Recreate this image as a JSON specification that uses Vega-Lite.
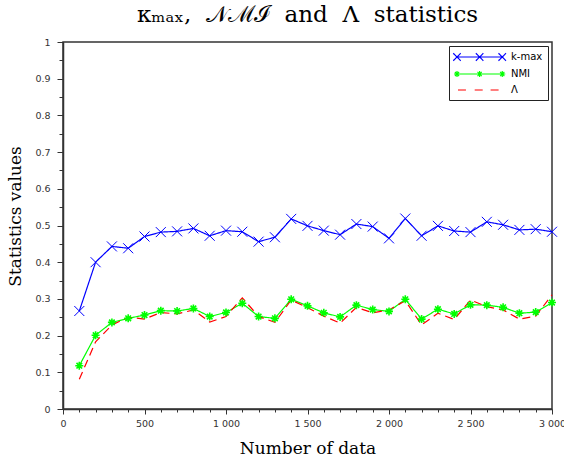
{
  "$schema": "https://vega.github.io/schema/vega-lite/v6.json",
  "width": 489,
  "height": 367,
  "autosize": "none",
  "padding": {"left": 63, "top": 42, "right": 12, "bottom": 55},
  "background": "white",
  "title": {
    "text": "κₘₐₓ,\u00a0\u00a0𝒩ℳℐ\u00a0\u00a0and\u00a0\u00a0Λ\u00a0\u00a0statistics",
    "font": "DejaVu Serif",
    "fontSize": 23,
    "fontWeight": "normal",
    "color": "black",
    "anchor": "middle",
    "frame": "group",
    "offset": 10
  },
  "config": {
    "view": {"stroke": "#333", "strokeWidth": 1.5},
    "axis": {
      "grid": false,
      "domainColor": "#333",
      "domainWidth": 1.5,
      "tickColor": "#333",
      "tickWidth": 1,
      "labelFont": "DejaVu Sans",
      "labelFontSize": 9.5,
      "labelColor": "#333",
      "labelOverlap": false,
      "labelFlush": false,
      "titleFont": "DejaVu Serif",
      "titleFontSize": 17,
      "titleFontWeight": "normal",
      "titleColor": "black"
    }
  },
  "data": {
    "values": [
      {"n": 100, "series": "k-max", "value": 0.267},
      {"n": 200, "series": "k-max", "value": 0.400},
      {"n": 300, "series": "k-max", "value": 0.443},
      {"n": 400, "series": "k-max", "value": 0.438},
      {"n": 500, "series": "k-max", "value": 0.470},
      {"n": 600, "series": "k-max", "value": 0.482},
      {"n": 700, "series": "k-max", "value": 0.484},
      {"n": 800, "series": "k-max", "value": 0.492},
      {"n": 900, "series": "k-max", "value": 0.472},
      {"n": 1000, "series": "k-max", "value": 0.486},
      {"n": 1100, "series": "k-max", "value": 0.483},
      {"n": 1200, "series": "k-max", "value": 0.456},
      {"n": 1300, "series": "k-max", "value": 0.468},
      {"n": 1400, "series": "k-max", "value": 0.518},
      {"n": 1500, "series": "k-max", "value": 0.499},
      {"n": 1600, "series": "k-max", "value": 0.486},
      {"n": 1700, "series": "k-max", "value": 0.475},
      {"n": 1800, "series": "k-max", "value": 0.504},
      {"n": 1900, "series": "k-max", "value": 0.497},
      {"n": 2000, "series": "k-max", "value": 0.465},
      {"n": 2100, "series": "k-max", "value": 0.519},
      {"n": 2200, "series": "k-max", "value": 0.472},
      {"n": 2300, "series": "k-max", "value": 0.499},
      {"n": 2400, "series": "k-max", "value": 0.485},
      {"n": 2500, "series": "k-max", "value": 0.482},
      {"n": 2600, "series": "k-max", "value": 0.510},
      {"n": 2700, "series": "k-max", "value": 0.502},
      {"n": 2800, "series": "k-max", "value": 0.488},
      {"n": 2900, "series": "k-max", "value": 0.490},
      {"n": 3000, "series": "k-max", "value": 0.483},
      {"n": 100, "series": "NMI", "value": 0.118},
      {"n": 200, "series": "NMI", "value": 0.201},
      {"n": 300, "series": "NMI", "value": 0.236},
      {"n": 400, "series": "NMI", "value": 0.247},
      {"n": 500, "series": "NMI", "value": 0.256},
      {"n": 600, "series": "NMI", "value": 0.268},
      {"n": 700, "series": "NMI", "value": 0.267},
      {"n": 800, "series": "NMI", "value": 0.274},
      {"n": 900, "series": "NMI", "value": 0.252},
      {"n": 1000, "series": "NMI", "value": 0.263},
      {"n": 1100, "series": "NMI", "value": 0.288},
      {"n": 1200, "series": "NMI", "value": 0.252},
      {"n": 1300, "series": "NMI", "value": 0.247},
      {"n": 1400, "series": "NMI", "value": 0.299},
      {"n": 1500, "series": "NMI", "value": 0.281},
      {"n": 1600, "series": "NMI", "value": 0.262},
      {"n": 1700, "series": "NMI", "value": 0.251},
      {"n": 1800, "series": "NMI", "value": 0.283},
      {"n": 1900, "series": "NMI", "value": 0.271},
      {"n": 2000, "series": "NMI", "value": 0.266},
      {"n": 2100, "series": "NMI", "value": 0.299},
      {"n": 2200, "series": "NMI", "value": 0.245},
      {"n": 2300, "series": "NMI", "value": 0.272},
      {"n": 2400, "series": "NMI", "value": 0.259},
      {"n": 2500, "series": "NMI", "value": 0.284},
      {"n": 2600, "series": "NMI", "value": 0.283},
      {"n": 2700, "series": "NMI", "value": 0.277},
      {"n": 2800, "series": "NMI", "value": 0.261},
      {"n": 2900, "series": "NMI", "value": 0.264},
      {"n": 3000, "series": "NMI", "value": 0.290},
      {"n": 100, "series": "Λ", "value": 0.081},
      {"n": 200, "series": "Λ", "value": 0.183},
      {"n": 300, "series": "Λ", "value": 0.229},
      {"n": 400, "series": "Λ", "value": 0.250},
      {"n": 500, "series": "Λ", "value": 0.245},
      {"n": 600, "series": "Λ", "value": 0.263},
      {"n": 700, "series": "Λ", "value": 0.259},
      {"n": 800, "series": "Λ", "value": 0.270},
      {"n": 900, "series": "Λ", "value": 0.237},
      {"n": 1000, "series": "Λ", "value": 0.252},
      {"n": 1100, "series": "Λ", "value": 0.303},
      {"n": 1200, "series": "Λ", "value": 0.252},
      {"n": 1300, "series": "Λ", "value": 0.236},
      {"n": 1400, "series": "Λ", "value": 0.297},
      {"n": 1500, "series": "Λ", "value": 0.276},
      {"n": 1600, "series": "Λ", "value": 0.253},
      {"n": 1700, "series": "Λ", "value": 0.234},
      {"n": 1800, "series": "Λ", "value": 0.277},
      {"n": 1900, "series": "Λ", "value": 0.262},
      {"n": 2000, "series": "Λ", "value": 0.270},
      {"n": 2100, "series": "Λ", "value": 0.295},
      {"n": 2200, "series": "Λ", "value": 0.229},
      {"n": 2300, "series": "Λ", "value": 0.261},
      {"n": 2400, "series": "Λ", "value": 0.244},
      {"n": 2500, "series": "Λ", "value": 0.297},
      {"n": 2600, "series": "Λ", "value": 0.279},
      {"n": 2700, "series": "Λ", "value": 0.270},
      {"n": 2800, "series": "Λ", "value": 0.245},
      {"n": 2900, "series": "Λ", "value": 0.253},
      {"n": 3000, "series": "Λ", "value": 0.311}
    ]
  },
  "encoding": {
    "x": {
      "field": "n",
      "type": "quantitative",
      "scale": {"domain": [0, 3000], "nice": false},
      "axis": {
        "title": "Number of data",
        "values": [0, 100, 200, 300, 400, 500, 600, 700, 800, 900, 1000, 1100, 1200, 1300, 1400, 1500, 1600, 1700, 1800, 1900, 2000, 2100, 2200, 2300, 2400, 2500, 2600, 2700, 2800, 2900, 3000],
        "labelExpr": "datum.value % 500 === 0 ? replace(format(datum.value, ','), ',', ' ') : ''",
        "tickSize": {"condition": {"test": "datum.value % 500 === 0", "value": 5}, "value": 3},
        "labelPadding": 4,
        "titleY": 44,
        "titleBaseline": "alphabetic"
      }
    },
    "y": {
      "field": "value",
      "type": "quantitative",
      "scale": {"domain": [0, 1], "nice": false},
      "axis": {
        "title": "Statistics values",
        "values": [0, 0.05, 0.1, 0.15, 0.2, 0.25, 0.3, 0.35, 0.4, 0.45, 0.5, 0.55, 0.6, 0.65, 0.7, 0.75, 0.8, 0.85, 0.9, 0.95, 1],
        "labelExpr": "round(datum.value * 20) % 2 === 0 ? format(datum.value, '~g') : ''",
        "tickSize": {"condition": {"test": "round(datum.value * 20) % 2 === 0", "value": 6}, "value": 4},
        "labelPadding": 7,
        "titleX": -48,
        "titleY": 174,
        "titleAngle": -90,
        "titleBaseline": "middle"
      }
    }
  },
  "layer": [
    {
      "mark": {"type": "line", "strokeWidth": 1.2},
      "encoding": {
        "color": {
          "field": "series",
          "type": "nominal",
          "scale": {"domain": ["k-max", "NMI", "Λ"], "range": ["#0000ff", "#00ff00", "#ff0000"]},
          "legend": {
            "title": null,
            "orient": "top-right",
            "offset": 4,
            "padding": 5,
            "strokeColor": "#222",
            "fillColor": "white",
            "symbolSize": 100,
            "symbolStrokeWidth": 1.2,
            "labelOffset": 45,
            "labelFont": "DejaVu Sans",
            "labelFontSize": 10,
            "labelColor": "black",
            "labelExpr": "datum.label + '\u00a0\u00a0\u00a0\u00a0'",
            "rowPadding": 4,
            "encode": {
              "symbols": {
                "update": {
                  "shape": {"signal": "datum.value === 'k-max' ? 'M-0.6,0L8.45,0M-1.35,-0.75L0.15,0.75M-1.35,0.75L0.15,-0.75M3.175,-0.75L4.675,0.75M3.175,0.75L4.675,-0.75M7.7,-0.75L9.2,0.75M7.7,0.75L9.2,-0.75' : datum.value === 'NMI' ? 'M-0.6,0L8.45,0M-1.2,0L0,0M-0.6,-0.6L-0.6,0.6M-1.02,-0.42L-0.18,0.42M-1.02,0.42L-0.18,-0.42M3.325,0L4.525,0M3.925,-0.6L3.925,0.6M3.505,-0.42L4.345,0.42M3.505,0.42L4.345,-0.42M7.85,0L9.05,0M8.45,-0.6L8.45,0.6M8.03,-0.42L8.87,0.42M8.03,0.42L8.87,-0.42' : 'M-0.41,0L1.83,0M2.94,0L5.18,0M6.12,0L7.98,0'"},
                  "fill": {"value": "transparent"}
                }
              }
            }
          }
        },
        "strokeDash": {
          "field": "series",
          "type": "nominal",
          "scale": {"domain": ["k-max", "NMI", "Λ"], "range": [[1, 0], [1, 0], [8, 5]]},
          "legend": null
        }
      }
    },
    {
      "transform": [{"filter": "datum.series === 'k-max'"}],
      "mark": {"type": "point", "shape": "M-1,-1L1,1M-1,1L1,-1", "filled": false, "color": "#0000ff", "size": 100, "strokeWidth": 1, "opacity": 1}
    },
    {
      "transform": [{"filter": "datum.series === 'NMI'"}],
      "mark": {"type": "point", "shape": "M-1,0L1,0M0,-1L0,1M-0.7,-0.7L0.7,0.7M-0.7,0.7L0.7,-0.7", "filled": false, "color": "#00ff00", "size": 64, "strokeWidth": 1.6, "opacity": 1}
    }
  ]
}
